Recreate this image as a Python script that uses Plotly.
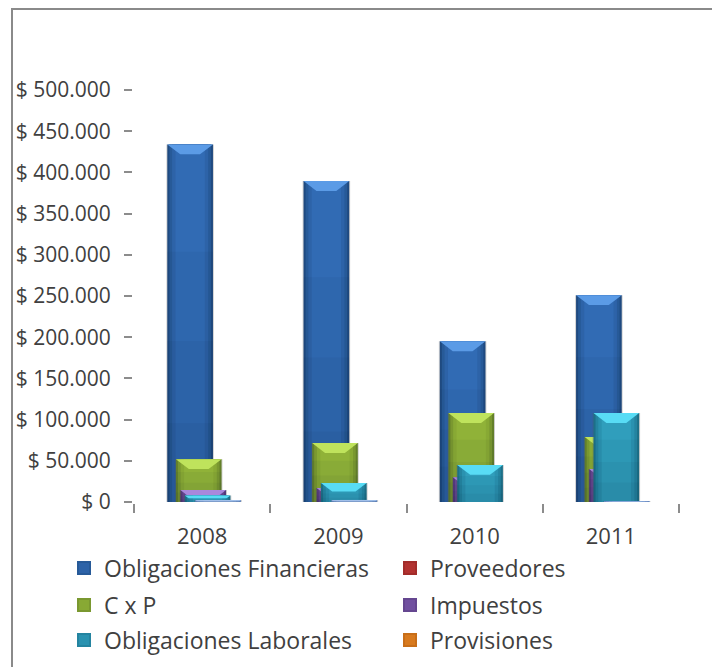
import plotly.graph_objects as go

years = ["2008", "2009", "2010", "2011"]
obligaciones_financieras = [434000, 389500, 195000, 251000]
proveedores = [0, 0, 0, 0]
c_x_p = [52000, 71500, 108000, 79000]
impuestos = [14500, 17000, 30000, 40000]
obligaciones_laborales = [8000, 23000, 45000, 108000]
provisiones = [0, 0, 0, 0]
otros = [2500, 2500, 0, 1000]  # thin light bar, not in the legend

y_ticks = [0, 50000, 100000, 150000, 200000, 250000, 300000, 350000, 400000, 450000, 500000]
y_labels = ["$ 0", "$ 50.000", "$ 100.000", "$ 150.000", "$ 200.000", "$ 250.000",
            "$ 300.000", "$ 350.000", "$ 400.000", "$ 450.000", "$ 500.000"]

BAR_W = 0.335
TEXT = "#404040"
AXIS = "#8c8c8c"
FONT = "Open Sans"

# name, values, offset from category centre, edge/mid/light/cap colours, legend, legend pixel pos
series = [
    ("Obligaciones Financieras", obligaciones_financieras, -0.088,
     ["#1f4a80", "#275a98", "#2d63a8", "#316bb4"], "#5b9be6", "legend", (64, 568)),
    ("Proveedores", proveedores, -0.055,
     ["#8a2523", "#a22c2a", "#b23230", "#c0403d"], "#e86c68", "legend2", (390, 568)),
    ("C x P", c_x_p, -0.025,
     ["#64802a", "#7a9830", "#88a934", "#90b238"], "#bfe35c", "legend3", (64, 605)),
    ("Impuestos", impuestos, 0.008,
     ["#54397a", "#654690", "#7150a0", "#7d5cae"], "#a988dc", "legend4", (390, 605)),
    ("Obligaciones Laborales", obligaciones_laborales, 0.04,
     ["#1d7088", "#2484a0", "#2a92b0", "#309ebc"], "#58dcf5", "legend5", (64, 640)),
    ("Provisiones", provisiones, 0.075,
     ["#b05f14", "#c86e18", "#d87a1e", "#e48628"], "#f5ac5c", "legend6", (390, 640)),
    ("", otros, 0.117,
     ["#6c90c8", "#7a9cd2", "#86a8da", "#8fb0e0"], "#a9c6ee", None, None),
]

fig = go.Figure()

for i, (name, values, off, shades, cap, legend, pos) in enumerate(series):
    z = i + 1
    xs = [k + off for k in range(len(years))]
    # soft shadow, then side shading from dark edge to light middle
    fig.add_trace(go.Bar(x=xs, y=values, width=BAR_W + 0.014, marker=dict(color="rgba(90,90,90,0.28)", line_width=0),
                         showlegend=False, zorder=z, hoverinfo="skip"))
    for shade, narrow in zip(shades, [0, 0.03, 0.07, 0.12]):
        fig.add_trace(go.Bar(x=xs, y=values, width=BAR_W - narrow,
                             marker=dict(color=shade, line=dict(width=0)),
                             showlegend=False, zorder=z, hoverinfo="skip"))
    # bars get a little darker towards the base
    for part in [0.7, 0.45, 0.22]:
        fig.add_trace(go.Bar(x=xs, y=[v * part for v in values], width=BAR_W,
                             marker=dict(color="rgba(10,30,50,0.045)", line_width=0),
                             showlegend=False, zorder=z, hoverinfo="skip"))
    # bevel on top of each bar
    cap_x, cap_y = [], []
    for x, v in zip(xs, values):
        if v <= 0:
            continue
        h = min(12000, v * 0.45)
        inset = 0.095 * h / 12000
        cap_x += [x - BAR_W / 2, x + BAR_W / 2, x + BAR_W / 2 - inset, x - BAR_W / 2 + inset, x - BAR_W / 2, None]
        cap_y += [v, v, v - h, v - h, v, None]
    fig.add_trace(go.Scatter(x=cap_x, y=cap_y, mode="lines", fill="toself", fillcolor=cap,
                             line=dict(width=0), showlegend=False, zorder=z, hoverinfo="skip"))
    # legend swatch only, thick outline makes it the size of the original
    if legend:
        fig.add_trace(go.Bar(x=[None], y=[None], name=name, legend=legend,
                             marker=dict(color=shades[2], line=dict(color=shades[1], width=2))))

fig.update_layout(
    width=712, height=667,
    barmode="overlay",
    margin=dict(l=134, r=33, t=90, b=165, pad=0, autoexpand=False),
    paper_bgcolor="white", plot_bgcolor="white",
    font=dict(family=FONT, color=TEXT, size=16),
    xaxis=dict(range=[-0.5, 3.5], tickvals=[0, 1, 2, 3], ticktext=years, ticks="", showgrid=False, zeroline=False,
               showline=True, linecolor=AXIS, linewidth=2, tickfont=dict(size=22), ticklabelstandoff=14,
               minor=dict(tickvals=[-0.5, 0.5, 1.5, 2.5, 3.5], ticks="outside", ticklen=9, tickcolor=AXIS,
                          tickwidth=2, showgrid=False)),
    yaxis=dict(range=[0, 500000], tickvals=y_ticks, ticktext=y_labels, ticks="outside", ticklen=8, tickcolor=AXIS,
               tickwidth=2, showgrid=False, zeroline=False, showline=True, linecolor=AXIS, linewidth=2,
               tickfont=dict(size=21), ticklabelstandoff=9),
)

# one legend per entry so they can sit in the two columns and three rows of the original
for s in series:
    if s[5] is None:
        continue
    px, py = s[6]
    fig.update_layout({s[5]: dict(x=(px - 134) / 545, xanchor="left", y=(502 - py) / 412, yanchor="middle",
                                  bgcolor="rgba(0,0,0,0)", font=dict(size=23, color=TEXT, family=FONT))})

# chart frame: only the top and left edges show
fig.add_shape(type="path", xref="paper", yref="paper",
              path=f"M {(12-134)/545} {-165/412} L {(12-134)/545} {(502-9)/412} L {(712-134)/545} {(502-9)/412}",
              line=dict(color="#8a8a8a", width=2))

fig.write_html("out.html", config=dict(displayModeBar=False), post_script="document.body.style.margin='0';")
